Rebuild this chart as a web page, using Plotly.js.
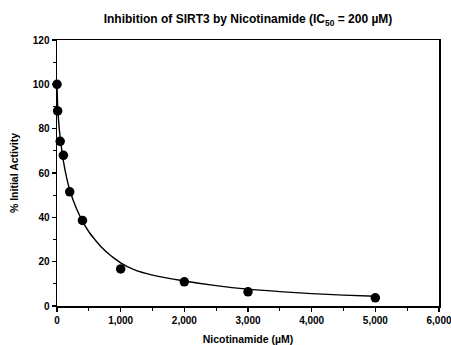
<!DOCTYPE html>
<html>
<head>
<meta charset="utf-8">
<script src="https://cdn.plot.ly/plotly-3.0.1.min.js"></script>
<style>html,body{margin:0;padding:0;background:#fff;}#chart{width:451px;height:345px;}</style>
</head>
<body>
<div id="chart"></div>
<script>
// Measured data points
const concentration = [0, 10, 50, 100, 200, 400, 1000, 2000, 3000, 5000];
const activity = [100, 88, 74.3, 68, 51.5, 38.6, 16.7, 10.9, 6.4, 3.7];

// Fitted curve
const fitX = [0, 10, 25, 50, 100, 150, 200, 300, 400, 500, 600, 700, 800, 900, 1000, 1200, 1500, 2000, 2500, 3000, 3500, 4000, 4500, 5000];
const fitY = [100, 90.5, 83.5, 76, 65.5, 58, 52.3, 44.3, 38.3, 33.5, 29.8, 26.5, 23.8, 21.5, 19.5, 16.5, 13.9, 11.3, 9.2, 7.6, 6.5, 5.6, 4.9, 4.4];

const xTickVals = [0, 1000, 2000, 3000, 4000, 5000, 6000];
const xTickText = ['0', '1,000', '2,000', '3,000', '4,000', '5,000', '6,000'];
const yTickVals = [0, 20, 40, 60, 80, 100, 120];

const font = {family: 'Liberation Sans, Arial, sans-serif', color: '#000'};

const traces = [
  {x: fitX, y: fitY, type: 'scatter', mode: 'lines',
   line: {color: '#000', width: 1.4, shape: 'spline', smoothing: 0.9},
   hoverinfo: 'skip', showlegend: false},
  {x: concentration, y: activity, type: 'scatter', mode: 'markers',
   marker: {color: '#000', size: 9.5}, showlegend: false, cliponaxis: false}
];

const axisCommon = {
  showgrid: false, zeroline: false, showline: true, linecolor: '#000', linewidth: 1.5,
  mirror: true, ticks: 'outside', ticklen: 4, tickwidth: 1.2, tickcolor: '#000',
  ticklabeloverflow: 'allow',
  tickfont: Object.assign({}, font, {size: 10, weight: 'bold'}),
  minor: {ticks: 'outside', ticklen: 3, tickwidth: 1.2, tickcolor: '#000'}
};

const layout = {
  width: 451, height: 345,
  margin: {l: 57, r: 12, t: 40, b: 39},
  paper_bgcolor: '#fff', plot_bgcolor: '#fff',
  font: font,
  title: {text: 'Inhibition of SIRT3 by Nicotinamide (IC<sub>50</sub> = 200 µM)',
          font: Object.assign({}, font, {size: 12, weight: 'bold'}),
          x: 0.5, xref: 'paper', xanchor: 'center', y: 0.945, yref: 'container', yanchor: 'middle'},
  xaxis: Object.assign({}, axisCommon, {
    range: [0, 6000], tickvals: xTickVals, ticktext: xTickText,
    minor: Object.assign({}, axisCommon.minor, {dtick: 500, tick0: 0}),
    title: {text: 'Nicotinamide (µM)', font: Object.assign({}, font, {size: 10.5, weight: 'bold'}), standoff: 18}
  }),
  yaxis: Object.assign({}, axisCommon, {
    range: [0, 120], tickvals: yTickVals,
    minor: Object.assign({}, axisCommon.minor, {dtick: 10, tick0: 0}),
    title: {text: '% Initial Activity', font: Object.assign({}, font, {size: 10.5, weight: 'bold'}), standoff: 12}
  })
};

Plotly.newPlot('chart', traces, layout, {displayModeBar: false, staticPlot: true});
</script>
</body>
</html>
